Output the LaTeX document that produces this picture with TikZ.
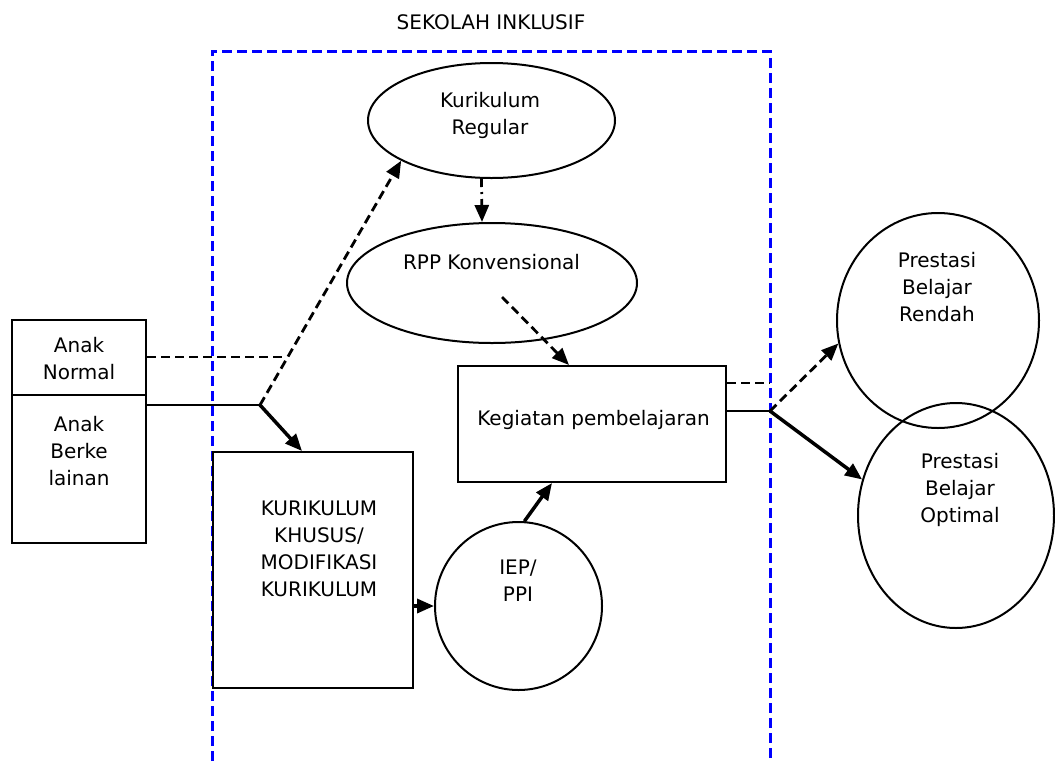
\documentclass[tikz,border=0pt]{standalone}
\usepackage{fontspec}
\setmainfont{DejaVu Sans}
\usetikzlibrary{arrows.meta,shapes.geometric}
\begin{document}
\begin{tikzpicture}[x=1pt,y=-1pt,
  lbl/.style={font=\fontsize{20}{27}\selectfont, align=center, inner sep=0pt},
  boxshape/.style={draw, line width=2pt, rectangle, inner sep=0pt},
  ellshape/.style={draw, line width=2pt, ellipse, inner sep=0pt},
  sekframe/.style={draw=blue, line width=3pt, dash pattern=on 10pt off 5pt},
  withtip/.style={-{Triangle[length=17pt,width=14pt]}},
  dashline/.style={line width=2.8pt, dash pattern=on 9pt off 5pt},
  dashdotline/.style={line width=2.8pt, dash pattern=on 8pt off 5pt on 2pt off 5pt},
  thinline/.style={line width=2pt},
  thickline/.style={line width=3.5pt},
]
\useasboundingbox (0,0) rectangle (1055,761);

% frame of the inclusive school
\draw[sekframe] (212,761) -- (212,51) -- (770,51) -- (770,761);

% shapes
\node[ellshape, minimum width=247pt, minimum height=115pt] (kr) at (491.5,120.5) {};
\node[ellshape, minimum width=290pt, minimum height=120pt] (rpp) at (492,283) {};
\node[boxshape, minimum width=268pt, minimum height=116pt] (keg) at (592,424) {};
\node[boxshape, minimum width=200pt, minimum height=236pt] (khusus) at (313,570) {};
\node[boxshape, minimum width=134pt, minimum height=75pt] (normal) at (79,357.5) {};
\node[boxshape, minimum width=134pt, minimum height=148pt] (berke) at (79,469) {};
\node[ellshape, minimum width=167pt, minimum height=168pt] (iep) at (518.5,606) {};
\node[ellshape, minimum width=202pt, minimum height=215pt] (rendah) at (938,320.5) {};
\node[ellshape, minimum width=196pt, minimum height=225pt] (optimal) at (956,515.5) {};

% texts
\node[lbl] (ttitle) at (491,22.7) {SEKOLAH INKLUSIF};
\node[lbl] (tkr) at (490,115) {Kurikulum\\Regular};
\node[lbl] (trpp) at (491.5,262.5) {RPP Konvensional};
\node[lbl] (tkeg) at (593.5,419.7) {Kegiatan pembelajaran};
\node[lbl] (tnormal) at (79,359) {Anak\\Normal};
\node[lbl] (tberke) at (79,451) {Anak\\Berke\\lainan};
\node[lbl] (tkhusus) at (319,549) {KURIKULUM\\KHUSUS/\\MODIFIKASI\\KURIKULUM};
\node[lbl] (tiep) at (518,581) {IEP/\\PPI};
\node[lbl] (trendah) at (937,287) {Prestasi\\Belajar\\Rendah};
\node[lbl] (toptimal) at (960,490) {Prestasi\\Belajar\\Optimal};

% junction points
\coordinate (j1) at (286.5,357);
\coordinate (j2) at (260,405);
\coordinate (j3) at (770,411);
\coordinate (j4) at (770,383);

% connectors
\draw[dashdotline, withtip] ([xshift=-10pt]kr.south) -- ([xshift=-10pt]rpp.north);
\draw[dashline, withtip] ([shift={(10,14)}]rpp.center) -- ([xshift=-23pt]keg.north);
\draw[dashline] (normal.east |- j1) -- (j1);
\draw[dashline, withtip] (j2) -- (kr.204);
\draw[thinline] (berke.east |- j2) -- (j2);
\draw[thickline, withtip] (j2) -- ([xshift=-11pt]khusus.north);
\draw[thickline, withtip] (khusus.east |- iep.west) -- (iep.west);
\draw[thickline, withtip] (iep.86) -- ([xshift=-40pt]keg.south);
\draw[dashline] (keg.east |- j4) -- (j4);
\draw[thinline] (keg.east |- j3) -- (j3);
\draw[dashline, withtip] (j3) -- (rendah.193);
\draw[thickline, withtip] (j3) -- (optimal.159);
\end{tikzpicture}
\end{document}
